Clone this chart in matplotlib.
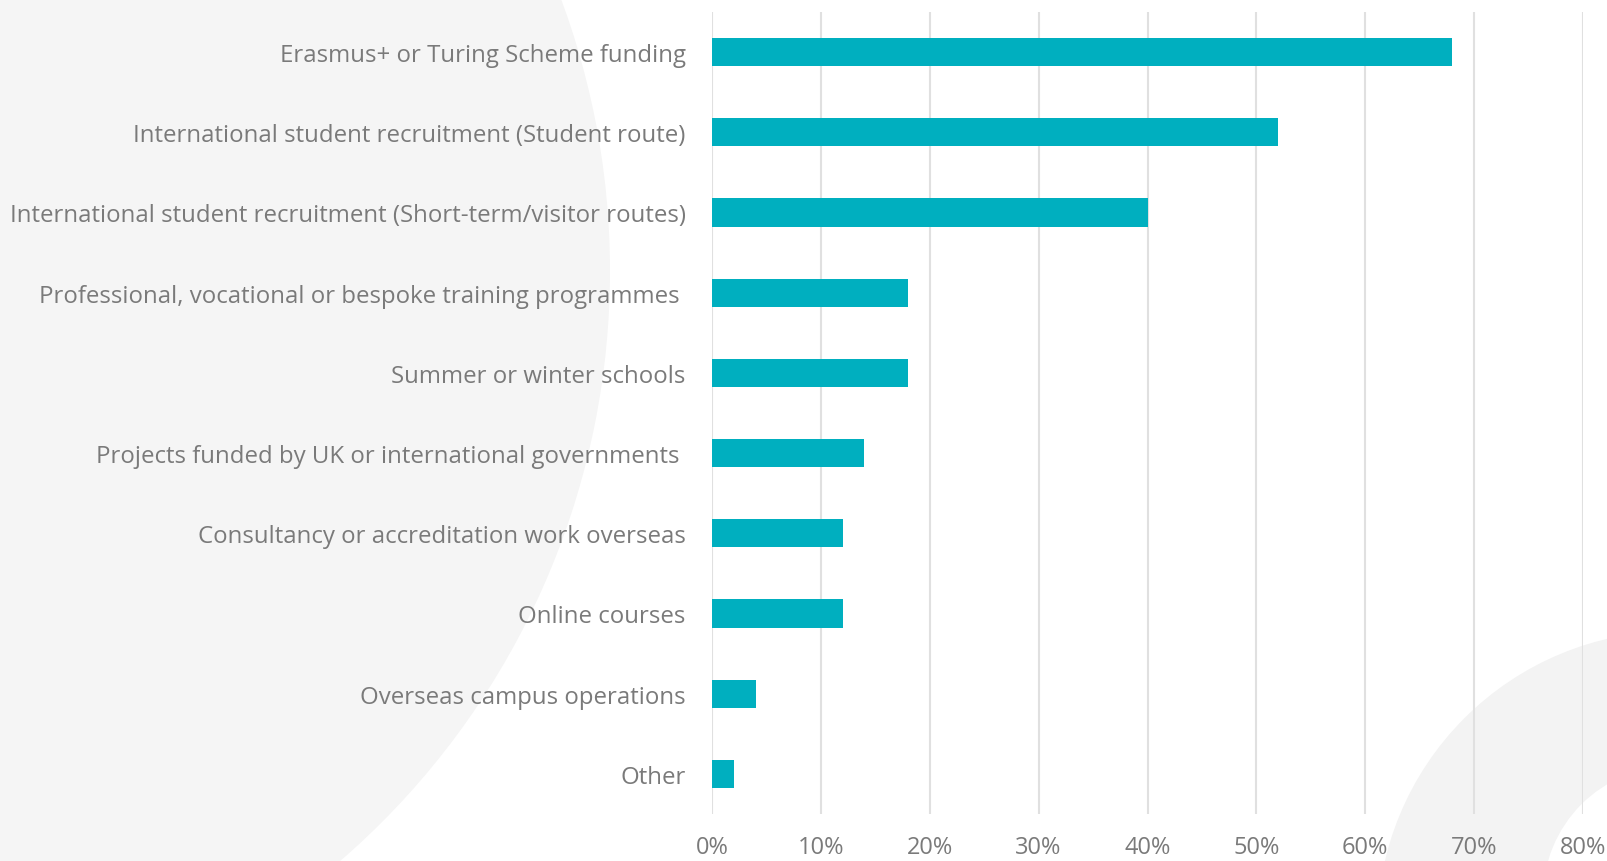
import matplotlib.pyplot as plt
from matplotlib.patches import Circle
from matplotlib.transforms import Affine2D

# Data
categories = [
    "Erasmus+ or Turing Scheme funding",
    "International student recruitment (Student route)",
    "International student recruitment (Short-term/visitor routes)",
    "Professional, vocational or bespoke training programmes ",
    "Summer or winter schools",
    "Projects funded by UK or international governments ",
    "Consultancy or accreditation work overseas",
    "Online courses",
    "Overseas campus operations",
    "Other",
]
values = [68, 52, 40, 18, 18, 14, 12, 12, 4, 2]
ticks = [0, 10, 20, 30, 40, 50, 60, 70, 80]
tick_labels = ["0%", "10%", "20%", "30%", "40%", "50%", "60%", "70%", "80%"]

bar_color = "#00AFBF"
text_color = "#7a7a7a"
bg_gray = "#f5f5f5"

plt.rcParams["font.family"] = ["Open Sans", "DejaVu Sans"]

W, H = 1608, 862
fig = plt.figure(figsize=(W / 100, H / 100), dpi=100)
fig.patch.set_facecolor("white")

# background shapes, given in pixels from the top left
pix = Affine2D().scale(1.0 / W, 1.0 / H) + fig.transFigure
for (cx, cy, r, col) in [(-170, 272, 780, bg_gray), (1675, 930, 298, "#f3f3f3"), (1674, 898, 131, "white")]:
    fig.patches.append(Circle((cx, H - cy), r, transform=pix, facecolor=col,
                              edgecolor="none", zorder=-5))

ax = fig.add_axes([712 / W, 1 - 815 / H, (1583 - 712) / W, (815 - 13) / H])
ax.patch.set_alpha(0)
ax.set_zorder(2)

y = list(range(len(categories)))
ax.barh(y, values, height=0.35, color=bar_color, zorder=3)

ax.set_xlim(0, 80)
ax.set_ylim(len(categories) - 0.5, -0.5)
ax.set_yticks(y)
ax.set_yticklabels(categories, fontsize=17.25, color=text_color)
ax.set_xticks(ticks)
ax.set_xticklabels(tick_labels, fontsize=17, color=text_color)
ax.tick_params(axis="y", length=0, pad=19)
ax.tick_params(axis="x", length=0, pad=15)

ax.grid(axis="x", color="#e0e0e0", linewidth=1.5, zorder=0)
ax.set_axisbelow(True)
for s in ax.spines.values():
    s.set_visible(False)

fig.savefig("out.png", dpi=100)
